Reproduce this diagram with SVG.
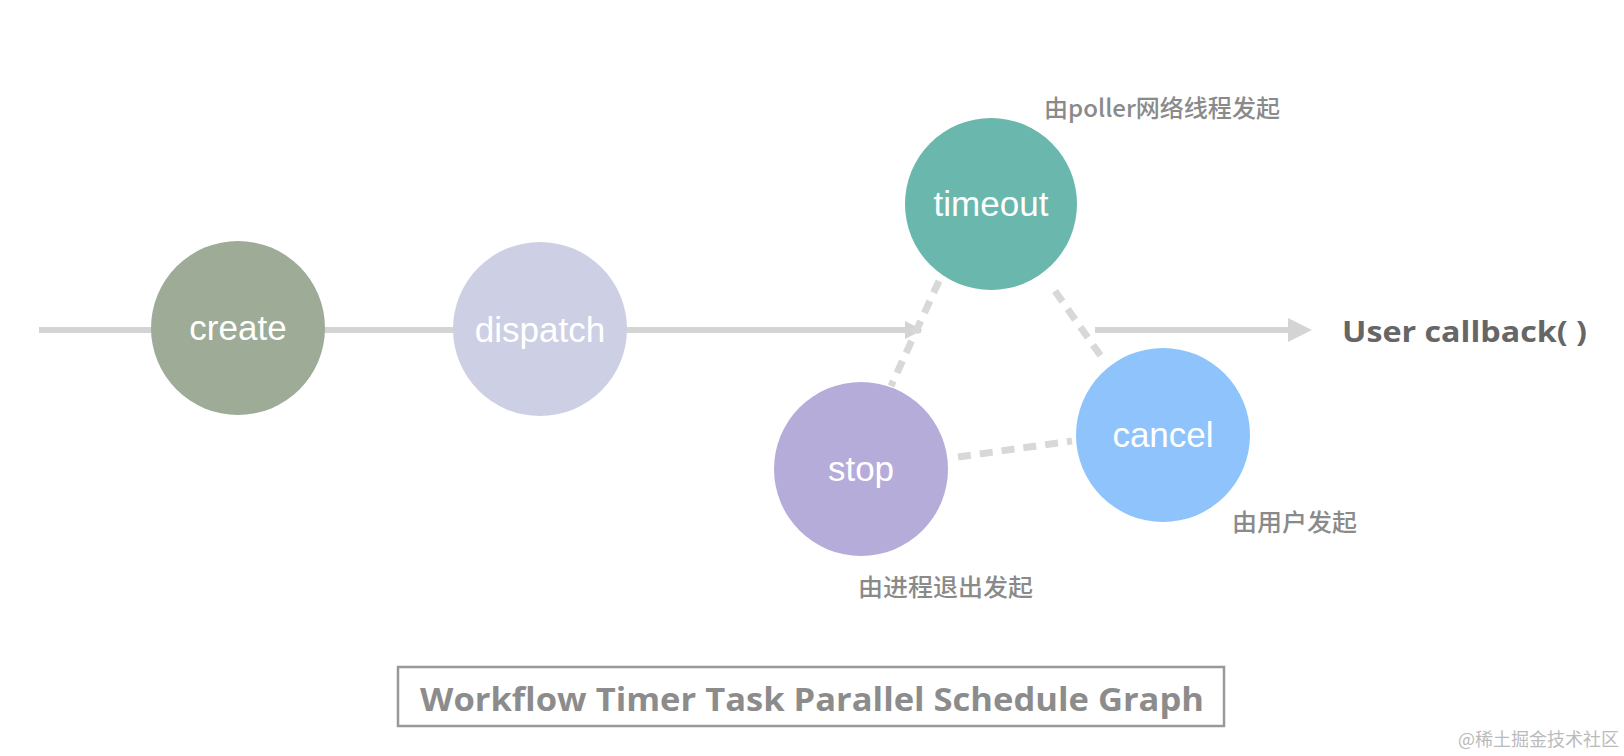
<svg xmlns="http://www.w3.org/2000/svg" width="1624" height="756" viewBox="0 0 1624 756">
<defs>
<style>
.node-label{font-family:"Liberation Sans",Arial,sans-serif;font-size:35px;fill:#ffffff;text-anchor:middle}
.note{font-family:"Noto Sans CJK SC","Noto Sans",sans-serif;font-weight:500;font-size:24px;fill:#8a8a8a}
.solid{stroke:#d4d4d4;stroke-width:6;fill:none}
.dash{stroke:#d8d8d8;stroke-width:7;fill:none;stroke-dasharray:13 9}
.comic{font-family:"Comic Sans MS","Open Sans","Noto Sans",sans-serif;font-weight:bold}
</style>
<marker id="small" viewBox="0 0 10 10" refX="9" refY="5" markerWidth="3" markerHeight="3" orient="auto" markerUnits="strokeWidth">
<path d="M0,0 L10,5 L0,10 z" fill="#d4d4d4"/>
</marker>
<marker id="big" viewBox="0 0 24 24" refX="1" refY="12" markerWidth="24" markerHeight="24" orient="auto" markerUnits="userSpaceOnUse">
<path d="M0,0 L24,12 L0,24 z" fill="#d4d4d4"/>
</marker>
</defs>
<rect width="1624" height="756" fill="#ffffff"/>
<g id="connectors">
<line class="solid" x1="39" y1="330" x2="921" y2="330" marker-end="url(#small)"/>
<line class="solid" x1="1095" y1="330" x2="1289" y2="330" marker-end="url(#big)"/>
<line class="dash" x1="939" y1="281" x2="891" y2="386"/>
<line class="dash" x1="1055" y1="291" x2="1105" y2="362"/>
<line class="dash" x1="958" y1="457" x2="1072" y2="441"/>
</g>
<g id="create">
<circle cx="238" cy="328" r="87" fill="#9dab97"/>
<text class="node-label" x="238" y="340">create</text>
</g>
<g id="dispatch">
<circle cx="540" cy="329" r="87" fill="#cdcfe4"/>
<text class="node-label" x="540" y="342">dispatch</text>
</g>
<g id="timeout">
<circle cx="991" cy="204" r="86" fill="#69b7ad"/>
<text class="node-label" x="991" y="216">timeout</text>
</g>
<g id="stop">
<circle cx="861" cy="469" r="87" fill="#b6acda"/>
<text class="node-label" x="861" y="481">stop</text>
</g>
<g id="cancel">
<circle cx="1163" cy="435" r="87" fill="#8ec4fb"/>
<text class="node-label" x="1163" y="447">cancel</text>
</g>
<text class="note" x="1044" y="117" textLength="236" lengthAdjust="spacingAndGlyphs">由poller网络线程发起</text>
<text class="note" x="1232" y="531" textLength="125" lengthAdjust="spacingAndGlyphs">由用户发起</text>
<text class="note" x="858" y="596" textLength="175" lengthAdjust="spacingAndGlyphs">由进程退出发起</text>
<text class="comic" x="1342" y="342" font-size="29" fill="#666666" textLength="245" lengthAdjust="spacingAndGlyphs">User callback( )</text>
<g id="title">
<rect x="398" y="667" width="826" height="59" fill="none" stroke="#999999" stroke-width="2.5"/>
<text class="comic" x="420" y="711" font-size="33" fill="#8c8c8c" textLength="784" lengthAdjust="spacingAndGlyphs">Workflow Timer Task Parallel Schedule Graph</text>
</g>
<text x="1458" y="746" font-family="'Noto Sans CJK SC','Liberation Sans',sans-serif" font-size="18" fill="#bbbbbb">@稀土掘金技术社区</text>
</svg>
